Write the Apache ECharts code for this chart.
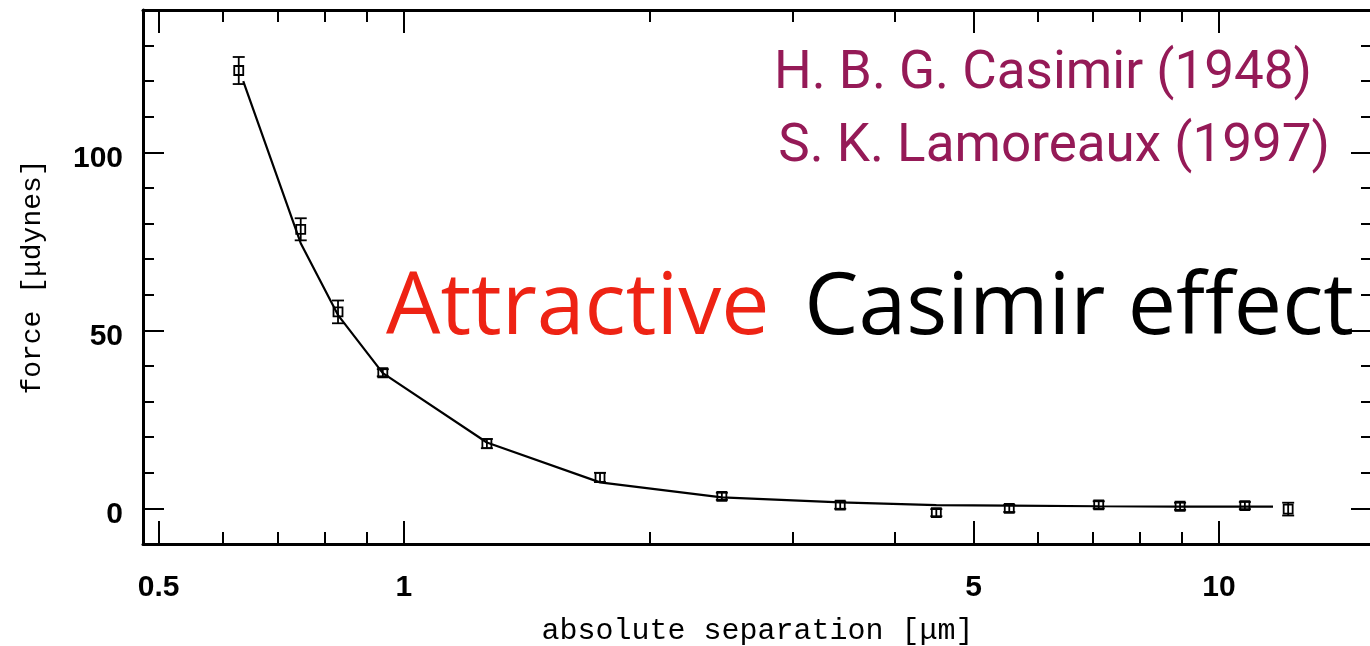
<!DOCTYPE html>
<html>
<head>
<meta charset="utf-8">
<script src="https://cdn.jsdelivr.net/npm/echarts@6/dist/echarts.min.js"></script>
<style>
html,body{margin:0;padding:0;background:#fff;}
#c{width:1370px;height:646px;}
</style>
</head>
<body>
<div id="c"></div>
<script>
// ---- data ----
const sepX   = [0.627, 0.747, 0.830, 0.942, 1.264, 1.740, 2.455, 3.43, 4.50, 5.53, 7.12, 8.96, 10.76, 12.16];
const forceY = [123, 78.4, 55.2, 38.1, 18.2, 8.7, 3.4, 0.9, -1.2, 0.0, 1.0, 0.6, 0.8, -0.2];
const forceErr = [3.8, 3.1, 3.2, 1.0, 1.3, 1.3, 1.0, 1.0, 1.0, 1.0, 1.0, 1.0, 1.0, 1.8];
const fitX   = [0.635, 0.747, 0.830, 0.942, 1.264, 1.740, 2.455, 3.43, 4.50, 5.53, 7.12, 8.96, 10.76, 11.65];
const fitY   = [120, 74.5, 54.3, 38.0, 18.5, 7.3, 3.1, 1.7, 0.9, 0.8, 0.6, 0.5, 0.5, 0.5];
const xMajorTicks = [0.5, 1, 5, 10];
const xMinorTicks = [0.6, 0.7, 0.8, 0.9, 2, 3, 4, 6, 7, 8, 9];
const yMajorTicks = [0, 50, 100];
const yMinorTicks = [10, 20, 30, 40, 60, 70, 80, 90, 110, 120, 130];
const X_MIN = 0.4784, X_MAX = 15.41, Y_MIN = -10, Y_MAX = 140;

const chart = echarts.init(document.getElementById('c'), null, {renderer: 'canvas'});
const black = '#000';
const tickFont = {fontFamily: 'Liberation Sans', fontSize: 30, fontWeight: 'bold', color: '#000'};

function xAx(pos, major, showLine, withLabel) {
  return {
    type: 'log', logBase: 10, position: pos, min: X_MIN, max: X_MAX,
    axisLine: {show: showLine, onZero: false, lineStyle: {color: black, width: 3}},
    axisTick: {show: true, inside: true, length: major ? 23 : 12,
               customValues: major ? xMajorTicks : xMinorTicks,
               lineStyle: {color: black, width: 2}},
    axisLabel: withLabel ? Object.assign({show: true, margin: 29, customValues: xMajorTicks,
               formatter: v => String(+(+v).toPrecision(3))}, tickFont) : {show: false},
    splitLine: {show: false}, minorTick: {show: false}
  };
}
function yAx(pos, major, showLine, withLabel) {
  return {
    type: 'value', position: pos, min: Y_MIN, max: Y_MAX,
    axisLine: {show: showLine, onZero: false, lineStyle: {color: black, width: 3}},
    axisTick: {show: true, inside: true, length: major ? 21 : 11,
               customValues: major ? yMajorTicks : yMinorTicks,
               lineStyle: {color: black, width: 2}},
    axisLabel: withLabel ? {show: true, margin: 20, customValues: yMajorTicks,
               formatter: v => '{a|' + v + '}',
               rich: {a: Object.assign({padding: [12, 0, 0, 0]}, tickFont)}} : {show: false},
    splitLine: {show: false}
  };
}

const xs = [xAx('bottom', true, true, true), xAx('bottom', false, false, false),
            xAx('top', true, true, false), xAx('top', false, false, false)];
xs[0].name = 'absolute separation [\u03bcm]';
xs[0].nameLocation = 'middle';
xs[0].nameGap = 72;
xs[0].nameTextStyle = {fontFamily: 'Liberation Mono', fontSize: 30, color: '#000'};

const ys = [yAx('left', true, true, true), yAx('left', false, false, false),
            yAx('right', true, true, false), yAx('right', false, false, false)];
ys[0].name = 'force [\u03bcdynes]';
ys[0].nameLocation = 'middle';
ys[0].nameGap = 96;
ys[0].nameTextStyle = {fontFamily: 'Liberation Mono', fontSize: 28, color: '#000'};

const pts = sepX.map((x, i) => [x, forceY[i], forceErr[i]]);
const fit = fitX.map((x, i) => [x, fitY[i]]);

chart.setOption({
  animation: false,
  backgroundColor: '#fff',
  grid: {left: 143, right: -2, top: 10, bottom: 102, containLabel: false, outerBoundsMode: 'none'},
  xAxis: xs,
  yAxis: ys,
  series: [
    {type: 'line', data: fit, xAxisIndex: 0, yAxisIndex: 0, showSymbol: false, symbol: 'none',
     lineStyle: {color: black, width: 2.2}, z: 3},
    {type: 'custom', data: pts, xAxisIndex: 0, yAxisIndex: 0, encode: {x: 0, y: 1}, z: 4,
     renderItem: function (params, api) {
       const x = api.value(0), y = api.value(1), e = api.value(2);
       const c = api.coord([x, y]);
       const t = api.coord([x, y + e]);
       const b = api.coord([x, y - e]);
       const cw = 6, s = 4.5;
       const st = {stroke: black, lineWidth: 1.8, fill: null};
       return {type: 'group', children: [
         {type: 'line', shape: {x1: c[0], y1: t[1], x2: c[0], y2: b[1]}, style: st},
         {type: 'line', shape: {x1: c[0] - cw, y1: t[1], x2: c[0] + cw, y2: t[1]}, style: st},
         {type: 'line', shape: {x1: c[0] - cw, y1: b[1], x2: c[0] + cw, y2: b[1]}, style: st},
         {type: 'rect', shape: {x: c[0] - s, y: c[1] - s, width: 2 * s, height: 2 * s}, style: st}
       ]};
     }}
  ],
  graphic: [
    {type: 'text', x: 1312, y: 75, style: {text: 'H. B. G. Casimir (1948)', x: 0, y: 0,
      textAlign: 'right', textVerticalAlign: 'middle', fill: '#951a57',
      font: '400 53px Roboto'}},
    {type: 'text', x: 1330, y: 148, style: {text: 'S. K. Lamoreaux (1997)', x: 0, y: 0,
      textAlign: 'right', textVerticalAlign: 'middle', fill: '#951a57',
      font: '400 53px Roboto'}},
    {type: 'text', x: 386, y: 309, style: {text: 'Attractive', x: 0, y: 0,
      textAlign: 'left', textVerticalAlign: 'middle', fill: '#ee2314',
      font: '400 86px "Open Sans"'}},
    {type: 'text', x: 1354, y: 309, style: {text: 'Casimir effect', x: 0, y: 0,
      textAlign: 'right', textVerticalAlign: 'middle', fill: '#000',
      font: '400 86px "Open Sans"'}}
  ]
});
</script>
</body>
</html>
